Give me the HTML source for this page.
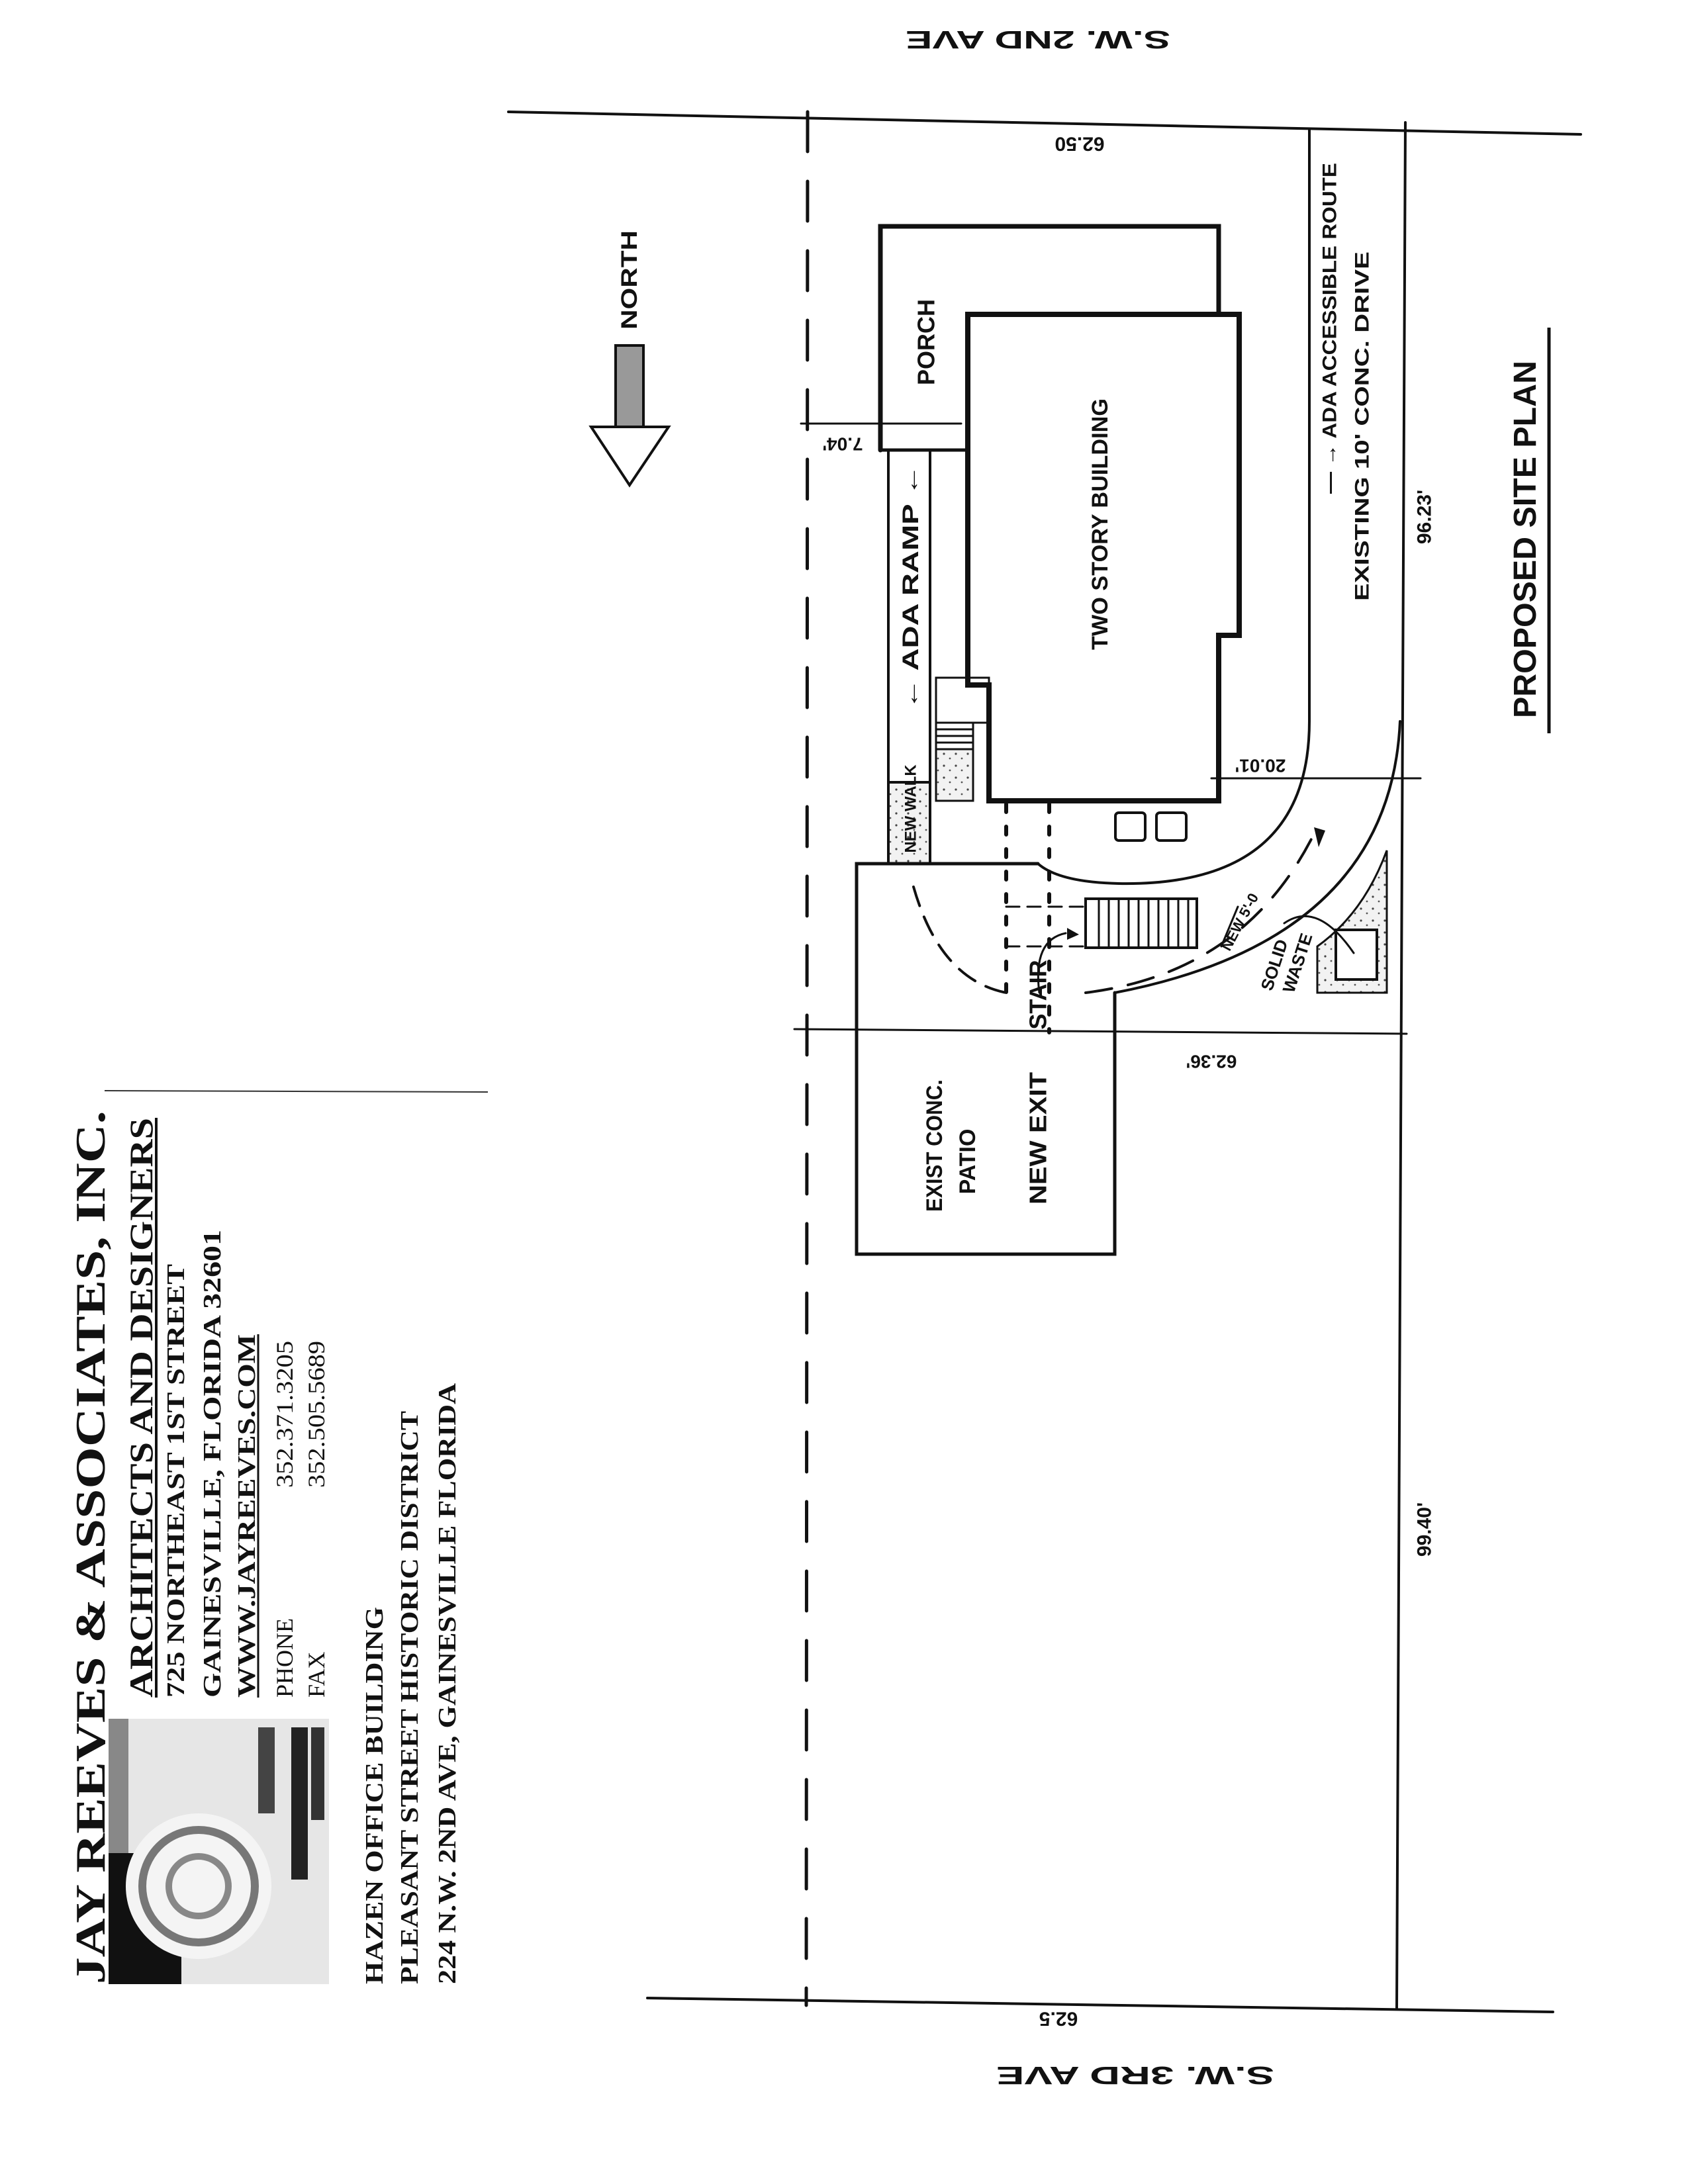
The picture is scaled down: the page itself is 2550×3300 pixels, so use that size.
<!DOCTYPE html>
<html><head><meta charset="utf-8"><style>
html,body{margin:0;padding:0;background:#fff}
svg{display:block}
.h{font-family:"Liberation Sans",sans-serif;font-weight:bold;fill:#111}
.s{font-family:"Liberation Serif",serif;font-weight:bold;fill:#111}
</style></head><body>
<svg width="2550" height="3300" viewBox="0 0 2550 3300" xmlns="http://www.w3.org/2000/svg">
<rect width="2550" height="3300" fill="#fff"/>
<defs>
<pattern id="st" width="18" height="18" patternUnits="userSpaceOnUse"><rect width="18" height="18" fill="#f2f2f2"/><circle cx="4" cy="5" r="1.6" fill="#444"/><circle cx="13" cy="12" r="1.4" fill="#555"/></pattern>
</defs>
<g stroke="#111" fill="none" stroke-linecap="round">
<line x1="768" y1="169" x2="2388" y2="203" stroke-width="4"/>
<line x1="978" y1="3019" x2="2346" y2="3040" stroke-width="4"/>
<line x1="1220" y1="169" x2="1218" y2="3030" stroke-width="5" stroke-dasharray="60 45"/>
<line x1="2123" y1="185" x2="2110" y2="3035" stroke-width="4"/>
<line x1="1210" y1="640" x2="1452" y2="640" stroke-width="3"/>
<line x1="1830" y1="1176" x2="2146" y2="1176" stroke-width="3"/>
<line x1="1200" y1="1555" x2="2125" y2="1562" stroke-width="3"/>
<path d="M1978 195 L1978 1090 Q1978 1340 1690 1335 Q1600 1333 1568 1305" stroke-width="4"/>
<path d="M2115 1090 Q2100 1420 1684 1500" stroke-width="4"/>
<path d="M1330 680 L1330 342 L1841 342 L1841 475" stroke-width="7"/>
<line x1="1330" y1="680" x2="1462" y2="680" stroke-width="5"/>
<path d="M1462 475 L1872 475 L1872 960 L1841 960 L1841 1210 L1494 1210 L1494 1035 L1462 1035 Z" stroke-width="8"/>
<rect x="1342" y="680" width="63" height="502" stroke-width="4"/>
<rect x="1342" y="1182" width="63" height="123" fill="url(#st)" stroke-width="4"/>
<rect x="1414" y="1024" width="80" height="68" stroke-width="3"/>
<rect x="1414" y="1092" width="56" height="40" stroke-width="3"/>
<line x1="1414" y1="1102" x2="1470" y2="1102" stroke-width="3"/><line x1="1414" y1="1112" x2="1470" y2="1112" stroke-width="3"/><line x1="1414" y1="1122" x2="1470" y2="1122" stroke-width="3"/>
<rect x="1414" y="1132" width="56" height="78" fill="url(#st)" stroke-width="3"/>
<path d="M1568 1305 L1294 1305 L1294 1895 L1684 1895 L1684 1500" stroke-width="5"/>
<rect x="1685" y="1228" width="45" height="42" rx="5" stroke-width="4"/>
<rect x="1747" y="1228" width="45" height="42" rx="5" stroke-width="4"/>
<rect x="1640" y="1358" width="168" height="74" stroke-width="4"/>
<g stroke-width="3"><line x1="1660" y1="1358" x2="1660" y2="1432"/><line x1="1675" y1="1358" x2="1675" y2="1432"/><line x1="1690" y1="1358" x2="1690" y2="1432"/><line x1="1705" y1="1358" x2="1705" y2="1432"/><line x1="1720" y1="1358" x2="1720" y2="1432"/><line x1="1735" y1="1358" x2="1735" y2="1432"/><line x1="1750" y1="1358" x2="1750" y2="1432"/><line x1="1765" y1="1358" x2="1765" y2="1432"/><line x1="1780" y1="1358" x2="1780" y2="1432"/><line x1="1795" y1="1358" x2="1795" y2="1432"/></g>
<line x1="1520" y1="1215" x2="1520" y2="1520" stroke-width="6" stroke-dasharray="12 22"/>
<line x1="1585" y1="1215" x2="1585" y2="1560" stroke-width="6" stroke-dasharray="12 22"/>
<line x1="1520" y1="1370" x2="1640" y2="1370" stroke-width="3" stroke-dasharray="20 12"/>
<line x1="1520" y1="1430" x2="1640" y2="1430" stroke-width="3" stroke-dasharray="20 12"/>
<path d="M1380 1340 Q1420 1480 1520 1500" stroke-width="4" stroke-dasharray="30 18"/>
<path d="M1640 1500 Q1880 1470 1985 1260" stroke-width="4" stroke-dasharray="40 25"/>
<path d="M1570 1500 Q1560 1420 1610 1410" stroke-width="3"/>
<path d="M1990 1500 L2095 1500 L2095 1285 Q2060 1380 1990 1430 Z" fill="url(#st)" stroke-width="3"/>
<rect x="2018" y="1405" width="62" height="75" fill="#fff" stroke-width="4"/>
<path d="M1940 1395 Q1990 1360 2045 1440" stroke-width="3"/>
<line x1="1845" y1="1430" x2="1870" y2="1370" stroke-width="3"/>
</g>
<polygon points="1985,1250 2002,1255 1992,1280" fill="#111"/>
<polygon points="1612,1402 1612,1420 1630,1412" fill="#111"/>
<rect x="930" y="522" width="42" height="123" fill="#999" stroke="#111" stroke-width="4"/>
<polygon points="893,645 1010,645 951,733" fill="#fff" stroke="#111" stroke-width="4"/>
<text class="h" font-size="34" transform="translate(962,498) rotate(-90)" textLength="150" lengthAdjust="spacingAndGlyphs">NORTH</text>
<text class="h" font-size="48" transform="translate(2320,1085) rotate(-90)" textLength="540" lengthAdjust="spacingAndGlyphs">PROPOSED SITE PLAN</text>
<line x1="2340" y1="495" x2="2340" y2="1108" stroke="#111" stroke-width="5"/>
<g class="h" text-anchor="middle" dominant-baseline="central">
<text font-size="36" transform="translate(1399,517) rotate(-90)">PORCH</text>
<text font-size="34" transform="translate(1662,792) rotate(-90)" textLength="380" lengthAdjust="spacingAndGlyphs">TWO STORY BUILDING</text>
<text font-size="34" transform="translate(1376,887) rotate(-90)" textLength="370" lengthAdjust="spacingAndGlyphs">← ADA RAMP ←</text>
<text font-size="24" transform="translate(1376,1222) rotate(-90)">NEW WALK</text>
<text font-size="34" transform="translate(1412,1731) rotate(-90)" textLength="200" lengthAdjust="spacingAndGlyphs">EXIST CONC.</text>
<text font-size="34" transform="translate(1462,1755) rotate(-90)">PATIO</text>
<text font-size="36" transform="translate(1568,1720) rotate(-90)" textLength="200" lengthAdjust="spacingAndGlyphs">NEW EXIT</text>
<text font-size="36" transform="translate(1568,1503) rotate(-90)">STAIR</text>
<text font-size="30" transform="translate(2009,496) rotate(-90)" textLength="500" lengthAdjust="spacingAndGlyphs">— → ADA ACCESSIBLE ROUTE</text>
<text font-size="30" transform="translate(2058,644) rotate(-90)" textLength="528" lengthAdjust="spacingAndGlyphs">EXISTING 10' CONC. DRIVE</text>
<text font-size="30" transform="translate(2152,781) rotate(-90)">96.23'</text>
<text font-size="30" transform="translate(2152,2311) rotate(-90)">99.40'</text>
<text font-size="22" transform="translate(1873,1393) rotate(-62)">NEW 5'-0</text>
<text font-size="26" transform="translate(1925,1458) rotate(-72)">SOLID</text>
<text font-size="26" transform="translate(1960,1455) rotate(-72)">WASTE</text>
<text font-size="38" transform="translate(1568,59) rotate(180)" textLength="400" lengthAdjust="spacingAndGlyphs">S.W. 2ND AVE</text>
<text font-size="30" transform="translate(1631,217) rotate(180)">62.50</text>
<text font-size="28" transform="translate(1273,671) rotate(180)">7.04'</text>
<text font-size="28" transform="translate(1904,1157) rotate(180)">20.01'</text>
<text font-size="28" transform="translate(1830,1604) rotate(180)">62.36'</text>
<text font-size="30" transform="translate(1599,3050) rotate(180)">62.5</text>
<text font-size="38" transform="translate(1715,3135) rotate(180)" textLength="420" lengthAdjust="spacingAndGlyphs">S.W. 3RD AVE</text>
</g>
<line x1="158" y1="1648" x2="737" y2="1650" stroke="#333" stroke-width="2"/>
<rect x="164" y="2597" width="333" height="401" fill="#e6e6e6"/>
<rect x="164" y="2597" width="30" height="210" fill="#888"/>
<rect x="164" y="2800" width="110" height="198" fill="#111"/>
<circle cx="300" cy="2850" r="110" fill="#f4f4f4"/>
<circle cx="300" cy="2850" r="85" fill="none" stroke="#777" stroke-width="12"/>
<circle cx="300" cy="2850" r="45" fill="none" stroke="#888" stroke-width="10"/>
<rect x="390" y="2610" width="25" height="130" fill="#444"/>
<rect x="440" y="2610" width="25" height="230" fill="#222"/>
<rect x="470" y="2610" width="20" height="140" fill="#333"/>
<g class="s">
<text font-size="64" transform="translate(158,2998) rotate(-90)" textLength="1320" lengthAdjust="spacingAndGlyphs">JAY REEVES &amp; ASSOCIATES, INC.</text>
<text font-size="50" transform="translate(230,2565) rotate(-90)" textLength="876" lengthAdjust="spacingAndGlyphs">ARCHITECTS AND DESIGNERS</text>
<line x1="236" y1="1689" x2="236" y2="2565" stroke="#111" stroke-width="4"/>
<text font-size="38" transform="translate(278,2565) rotate(-90)" textLength="655" lengthAdjust="spacingAndGlyphs">725 NORTHEAST 1ST STREET</text>
<text font-size="38" transform="translate(333,2565) rotate(-90)" textLength="707" lengthAdjust="spacingAndGlyphs">GAINESVILLE, FLORIDA 32601</text>
<text font-size="38" transform="translate(385,2565) rotate(-90)" textLength="549" lengthAdjust="spacingAndGlyphs">WWW.JAYREEVES.COM</text>
<line x1="390" y1="2016" x2="390" y2="2565" stroke="#111" stroke-width="3"/>
<text font-size="36" font-weight="normal" transform="translate(442,2565) rotate(-90)">PHONE</text>
<text font-size="36" font-weight="normal" transform="translate(442,2248) rotate(-90)" textLength="222" lengthAdjust="spacingAndGlyphs">352.371.3205</text>
<text font-size="36" font-weight="normal" transform="translate(490,2565) rotate(-90)">FAX</text>
<text font-size="36" font-weight="normal" transform="translate(490,2248) rotate(-90)" textLength="222" lengthAdjust="spacingAndGlyphs">352.505.5689</text>
<text font-size="38" transform="translate(578,2998) rotate(-90)" textLength="570" lengthAdjust="spacingAndGlyphs">HAZEN OFFICE BUILDING</text>
<text font-size="38" transform="translate(631,2998) rotate(-90)" textLength="866" lengthAdjust="spacingAndGlyphs">PLEASANT STREET HISTORIC DISTRICT</text>
<text font-size="38" transform="translate(688,2998) rotate(-90)" textLength="908" lengthAdjust="spacingAndGlyphs">224 N.W. 2ND AVE, GAINESVILLE FLORIDA</text>
</g>
</svg>
</body></html>
